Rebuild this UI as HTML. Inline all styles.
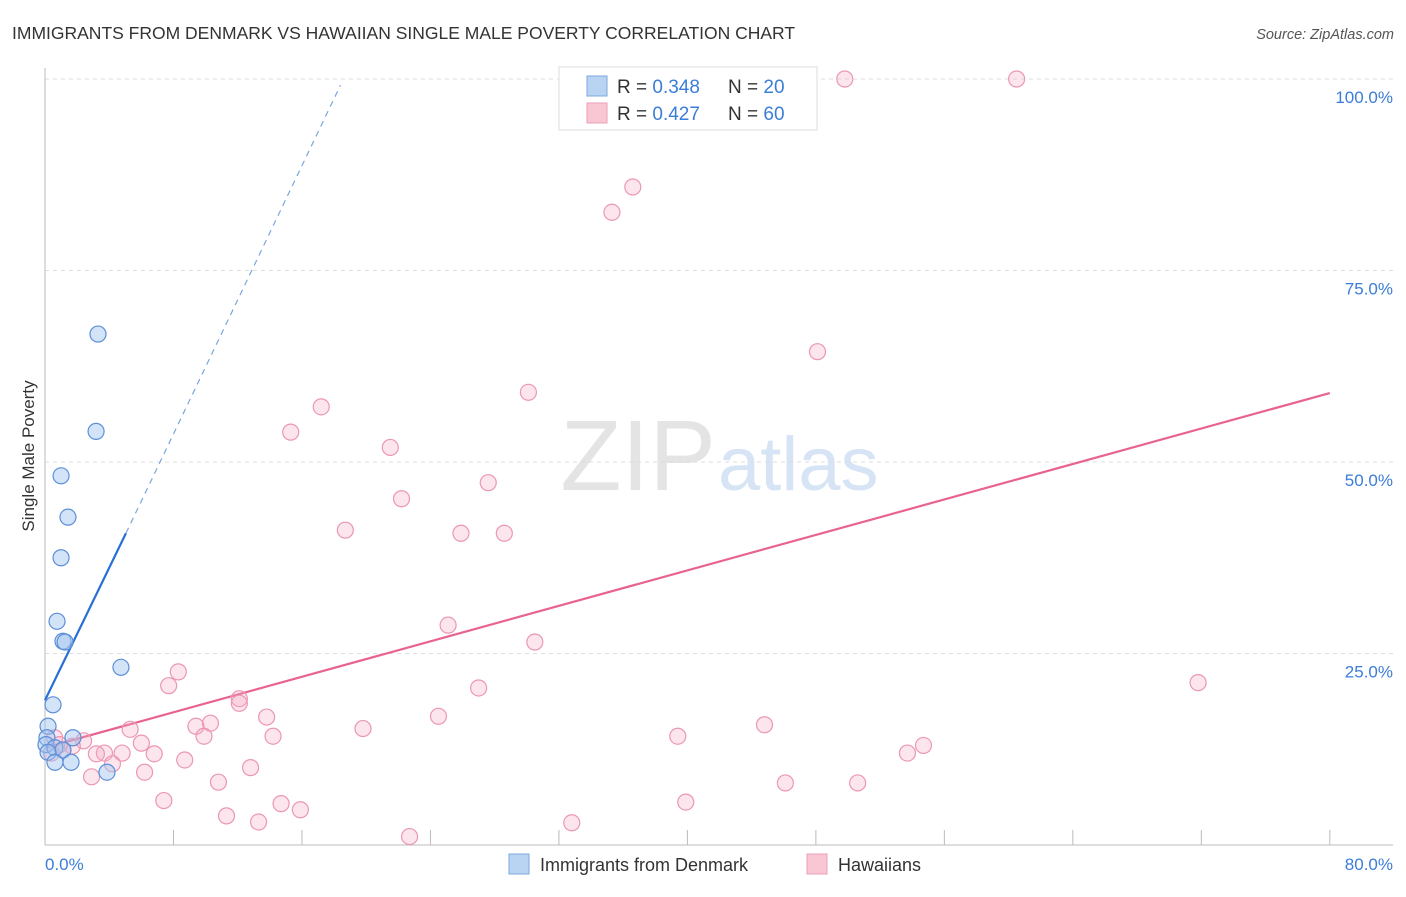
<!DOCTYPE html>
<html><head><meta charset="utf-8"><style>
body{margin:0;background:#fff;font-family:"Liberation Sans",sans-serif;}
svg text{font-family:"Liberation Sans",sans-serif;}
</style></head><body>
<svg width="1406" height="892" xmlns="http://www.w3.org/2000/svg">
<text x="12" y="39" font-size="17.5" fill="#333">IMMIGRANTS FROM DENMARK VS HAWAIIAN SINGLE MALE POVERTY CORRELATION CHART</text>
<text x="1394" y="39" font-size="14.5" fill="#555" text-anchor="end" font-style="italic">Source: ZipAtlas.com</text>
<text x="716" y="490" font-size="100" fill="#e4e4e4" text-anchor="end" font-family="Liberation Serif">ZIP</text>
<text x="718" y="490" font-size="76" fill="#d6e4f5">atlas</text>
<g id="grid"></g><g id="axes"></g><g id="trends"></g><g id="pts"></g>
<text transform="translate(34,456) rotate(-90)" font-size="17" fill="#333" text-anchor="middle">Single Male Poverty</text>
<text x="45" y="870" font-size="17" fill="#3b7dd8">0.0%</text>
<text x="1393" y="870" font-size="17" fill="#3b7dd8" text-anchor="end">80.0%</text>
<g>
<rect x="559" y="67" width="258" height="63" fill="#fff" stroke="#ddd"/>
<rect x="587" y="76" width="20" height="20" fill="#b9d3f3" stroke="#7ba7e0"/>
<rect x="587" y="103" width="20" height="20" fill="#f9c6d4" stroke="#eba0b6"/>
<text x="617" y="93" font-size="19" fill="#333">R = <tspan fill="#3b7dd8">0.348</tspan></text>
<text x="728" y="93" font-size="19" fill="#333">N = <tspan fill="#3b7dd8">20</tspan></text>
<text x="617" y="120" font-size="19" fill="#333">R = <tspan fill="#3b7dd8">0.427</tspan></text>
<text x="728" y="120" font-size="19" fill="#333">N = <tspan fill="#3b7dd8">60</tspan></text>
</g>
<g>
<rect x="509" y="854" width="20" height="20" fill="#b9d3f3" stroke="#7ba7e0"/>
<text x="540" y="871" font-size="18" fill="#333">Immigrants from Denmark</text>
<rect x="807" y="854" width="20" height="20" fill="#f9c6d4" stroke="#eba0b6"/>
<text x="838" y="871" font-size="18" fill="#333">Hawaiians</text>
</g>
</svg>
<script>
const yTicks=[25,50,75,100];
const yTickLabels=["25.0%","50.0%","75.0%","100.0%"];
const xTicks=[0,8,16,24,32,40,48,56,64,72,80];
const blueX=[3.3,3.18,1.0,1.43,1.0,0.75,1.12,1.25,4.73,0.5,0.19,0.12,1.74,0.06,0.62,1.12,0.19,0.62,1.62,3.86];
const blueY=[66.7,54.0,48.2,42.8,37.5,29.2,26.6,26.5,23.2,18.3,15.5,14.0,14.0,13.1,12.7,12.4,12.1,10.8,10.8,9.5];
const pinkX=[49.8,60.5,36.6,35.3,48.1,30.1,17.2,15.3,21.5,22.2,27.6,18.7,25.9,28.6,25.1,30.5,8.3,7.7,27.0,12.1,12.1,71.8,24.5,13.8,10.3,9.4,44.8,19.8,5.3,9.9,14.2,39.4,0.6,2.4,54.7,6.0,1.7,53.7,1.1,3.7,4.8,3.2,8.7,6.8,4.2,12.8,6.2,2.9,10.8,46.1,50.6,7.4,39.9,14.7,15.9,11.3,13.3,32.8,22.7,0.9,0.4];
const pinkY=[100,100,85.9,82.6,64.4,59.1,57.2,53.9,51.9,45.2,47.3,41.1,40.7,40.7,28.7,26.5,22.6,20.8,20.5,19.1,18.5,21.2,16.8,16.7,15.9,15.5,15.7,15.2,15.1,14.2,14.2,14.2,14.0,13.6,13.0,13.3,12.9,12.0,12.4,12.0,12.0,11.9,11.1,11.9,10.6,10.1,9.5,8.9,8.2,8.1,8.1,5.8,5.6,5.4,4.6,3.8,3.0,2.9,1.1,13.1,12.0];
const blueTrend=[0,18.9,5.04,40.7,18.4,99.2];
const pinkTrend=[0,12.7,80,59.0];
const X=v=>45+v*16.06, Y=v=>845-v*7.66;
const NS="http://www.w3.org/2000/svg";
function mk(tag,attrs,parent){const e=document.createElementNS(NS,tag);for(const k in attrs)e.setAttribute(k,attrs[k]);document.getElementById(parent).appendChild(e);return e;}
yTicks.forEach((t,i)=>{
 const l=mk('line',{x1:45,x2:1393,y1:Y(t),y2:Y(t),stroke:'#ddd','stroke-dasharray':'4,4'},'grid');
 
 
 const tx=mk('text',{x:1393,y:Y(t)+24,'font-size':17,fill:'#3b7dd8','text-anchor':'end'},'grid');
 tx.textContent=yTickLabels[i];
 
 
});
let a=mk('line',{x1:45,x2:45,y1:68,y2:845,stroke:'#bbb'},'axes');


a=mk('line',{x1:45,x2:1393,y1:845,y2:845,stroke:'#bbb'},'axes');


xTicks.forEach(t=>{const l=mk('line',{x1:X(t),x2:X(t),y1:830,y2:845,stroke:'#bbb'},'axes');
 
 });
let tl=mk('line',{x1:X(blueTrend[0]),y1:Y(blueTrend[1]),x2:X(blueTrend[2]),y2:Y(blueTrend[3]),stroke:'#2a6fd6','stroke-width':2.2},'trends');


tl=mk('line',{x1:X(blueTrend[2]),y1:Y(blueTrend[3]),x2:X(blueTrend[4]),y2:Y(blueTrend[5]),stroke:'#7aa6e0','stroke-width':1.2,'stroke-dasharray':'6,5'},'trends');


tl=mk('line',{x1:X(pinkTrend[0]),y1:Y(pinkTrend[1]),x2:X(pinkTrend[2]),y2:Y(pinkTrend[3]),stroke:'#e8638f','stroke-width':2.2},'trends');


pinkX.forEach((x,i)=>{const c=mk('circle',{cx:X(x),cy:Y(pinkY[i]),r:8,fill:'rgba(246,170,194,0.3)',stroke:'#eb97b2','stroke-width':1.2},'pts');
 
 });
blueX.forEach((x,i)=>{const c=mk('circle',{cx:X(x),cy:Y(blueY[i]),r:8,fill:'rgba(160,196,240,0.45)',stroke:'#5b8fd8','stroke-width':1.2},'pts');
 
 });
</script>
</body></html>
